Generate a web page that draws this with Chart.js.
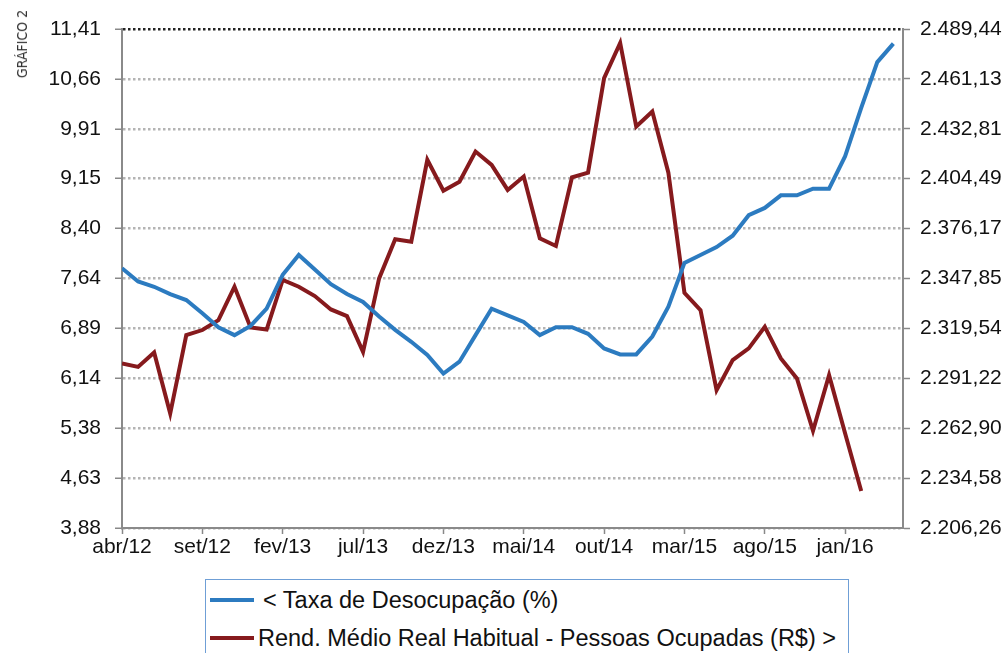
<!DOCTYPE html>
<html>
<head>
<meta charset="utf-8">
<script src="https://cdn.jsdelivr.net/npm/chart.js@4/dist/chart.umd.min.js"></script>
<style>
  html, body { margin: 0; padding: 0; background: #fff; }
  #wrap { position: relative; width: 1008px; height: 653px; overflow: hidden; font-family: "Liberation Sans", Arial, sans-serif; }
  #c { position: absolute; left: 0; top: 0; }
  #tag { position: absolute; left: 22px; top: 44px; transform: translate(-50%, -50%) rotate(-90deg); font-family: "Liberation Sans Narrow", "DejaVu Sans Condensed", sans-serif; font-size: 14px; color: #333; white-space: nowrap; }
  #legend { position: absolute; left: 205px; top: 579px; width: 644px; height: 100px; border: 1.5px solid #6f9fd6; box-sizing: border-box; background: #fff; }
  .item { position: absolute; left: 4px; height: 26px; display: flex; align-items: center; font-size: 23.5px; color: #111; white-space: nowrap; }
  .swatch { width: 44px; height: 4px; margin-right: 9px; }
</style>
</head>
<body>
<div id="wrap">
  <canvas id="c" width="1008" height="653"></canvas>
  <div id="tag">GRÁFICO 2</div>
  <div id="legend"></div>
</div>
<script>
// ---- data ----
const months = [
  "abr/12","mai/12","jun/12","jul/12","ago/12","set/12","out/12","nov/12","dez/12",
  "jan/13","fev/13","mar/13","abr/13","mai/13","jun/13","jul/13","ago/13","set/13","out/13","nov/13","dez/13",
  "jan/14","fev/14","mar/14","abr/14","mai/14","jun/14","jul/14","ago/14","set/14","out/14","nov/14","dez/14",
  "jan/15","fev/15","mar/15","abr/15","mai/15","jun/15","jul/15","ago/15","set/15","out/15","nov/15","dez/15",
  "jan/16","fev/16","mar/16","abr/16"
];
const taxaDesocupacao = [
  7.80, 7.60, 7.52, 7.41, 7.32, 7.12, 6.91, 6.79, 6.93, 7.19, 7.70, 8.00, 7.78, 7.56, 7.41, 7.29,
  7.07, 6.87, 6.69, 6.49, 6.21, 6.39, 6.79, 7.19, 7.09, 6.99, 6.79, 6.91, 6.91, 6.81, 6.59, 6.50,
  6.50, 6.77, 7.22, 7.88, 8.00, 8.12, 8.29, 8.60, 8.71, 8.90, 8.90, 9.00, 9.00, 9.49, 10.22, 10.91, 11.19
];
const rendimentoMedio = [
  2299.6, 2297.7, 2305.9, 2271.2, 2315.7, 2318.6, 2324.2, 2343.2, 2320.1, 2318.9, 2347.0, 2343.2,
  2337.9, 2330.3, 2326.5, 2306.2, 2347.9, 2370.1, 2368.7, 2415.2, 2397.7, 2402.8, 2419.9, 2412.3,
  2398.1, 2405.7, 2370.7, 2366.3, 2405.3, 2407.9, 2461.6, 2481.5, 2434.1, 2442.6, 2407.9, 2339.7,
  2329.9, 2284.5, 2301.5, 2308.2, 2320.4, 2302.5, 2291.1, 2261.4, 2293.0, 2259.9, 2227.3
];
const xTickIndices = [0, 5, 10, 15, 20, 25, 30, 35, 40, 45];
const leftTickLabels = ["3,88","4,63","5,38","6,14","6,89","7,64","8,40","9,15","9,91","10,66","11,41"];
const rightTickLabels = ["2.206,26","2.234,58","2.262,90","2.291,22","2.319,54","2.347,85","2.376,17","2.404,49","2.432,81","2.461,13","2.489,44"];
const leftMin = 3.88, leftMax = 11.41;
const rightMin = 2206.26, rightMax = 2489.44;
const labelTaxa = "< Taxa de Desocupação (%)";
const labelRend = "Rend. Médio Real Habitual - Pessoas Ocupadas (R$) >";
const blue = "#2c7bc0", red = "#861a1d";

// ---- chart ----
const FONT = { family: "'Liberation Sans', Arial, sans-serif", size: 21 };
function evenTicks(min, max, n) {
  return Array.from({ length: n }, (_, i) => ({ value: min + (max - min) * i / (n - 1) }));
}
new Chart(document.getElementById('c'), {
  type: 'line',
  data: {
    datasets: [
      { label: labelTaxa, data: taxaDesocupacao.map((v, i) => ({ x: i, y: v })), yAxisID: 'yL',
        borderColor: blue, backgroundColor: blue, borderWidth: 4, pointRadius: 0, tension: 0, order: 0 },
      { label: labelRend, data: rendimentoMedio.map((v, i) => ({ x: i, y: v })), yAxisID: 'yR',
        borderColor: red, backgroundColor: red, borderWidth: 4, pointRadius: 0, tension: 0, order: 1 }
    ]
  },
  options: {
    responsive: false,
    animation: false,
    layout: { padding: { top: 29, left: 0, right: 0, bottom: 0 } },
    plugins: { legend: { display: false }, tooltip: { enabled: false } },
    scales: {
      x: {
        type: 'linear', min: 0, max: 48.6,
        afterBuildTicks: s => { s.ticks = xTickIndices.map(v => ({ value: v })); },
        afterFit: s => { s.height = 125; },
        grid: { drawOnChartArea: false, drawTicks: true, tickLength: 6, tickColor: '#888', tickWidth: 1.5 },
        border: { color: '#8a8a8a', width: 2 },
        ticks: { autoSkip: false, maxRotation: 0, padding: 1, color: '#111', font: FONT,
                 callback: v => months[v] }
      },
      yL: {
        type: 'linear', position: 'left', min: leftMin, max: leftMax,
        afterBuildTicks: s => { s.ticks = evenTicks(leftMin, leftMax, leftTickLabels.length); },
        afterFit: s => { s.width = 122; },
        grid: { color: c => (c.index === leftTickLabels.length - 1 ? '#222' : '#b4b4b4'), lineWidth: 2.5,
                drawTicks: true, tickLength: 7, tickColor: '#888', tickWidth: 1.5 },
        border: { color: '#8a8a8a', width: 2, dash: [2.5, 2.5] },
        ticks: { autoSkip: false, padding: 14, color: '#111', font: FONT,
                 callback: (v, i) => leftTickLabels[i] }
      },
      yR: {
        type: 'linear', position: 'right', min: rightMin, max: rightMax,
        afterBuildTicks: s => { s.ticks = evenTicks(rightMin, rightMax, rightTickLabels.length); },
        afterFit: s => { s.width = 105; },
        grid: { drawOnChartArea: false, drawTicks: true, tickLength: 7, tickColor: '#888', tickWidth: 1.5 },
        border: { color: '#8a8a8a', width: 2 },
        ticks: { autoSkip: false, padding: 10, color: '#111', font: FONT,
                 callback: (v, i) => rightTickLabels[i] }
      }
    }
  }
});

// ---- legend (HTML text) ----
const legend = document.getElementById('legend');
[[labelTaxa, blue, 7], [labelRend, red, 45]].forEach(([txt, col, top], k) => {
  const d = document.createElement('div');
  d.className = 'item';
  d.style.top = top + 'px';
  const sw = document.createElement('span');
  sw.className = 'swatch';
  sw.style.background = col;
  sw.style.marginRight = (k === 1 ? 4 : 9) + 'px';
  d.appendChild(sw);
  d.appendChild(document.createTextNode(txt));
  legend.appendChild(d);
});
</script>
</body>
</html>
